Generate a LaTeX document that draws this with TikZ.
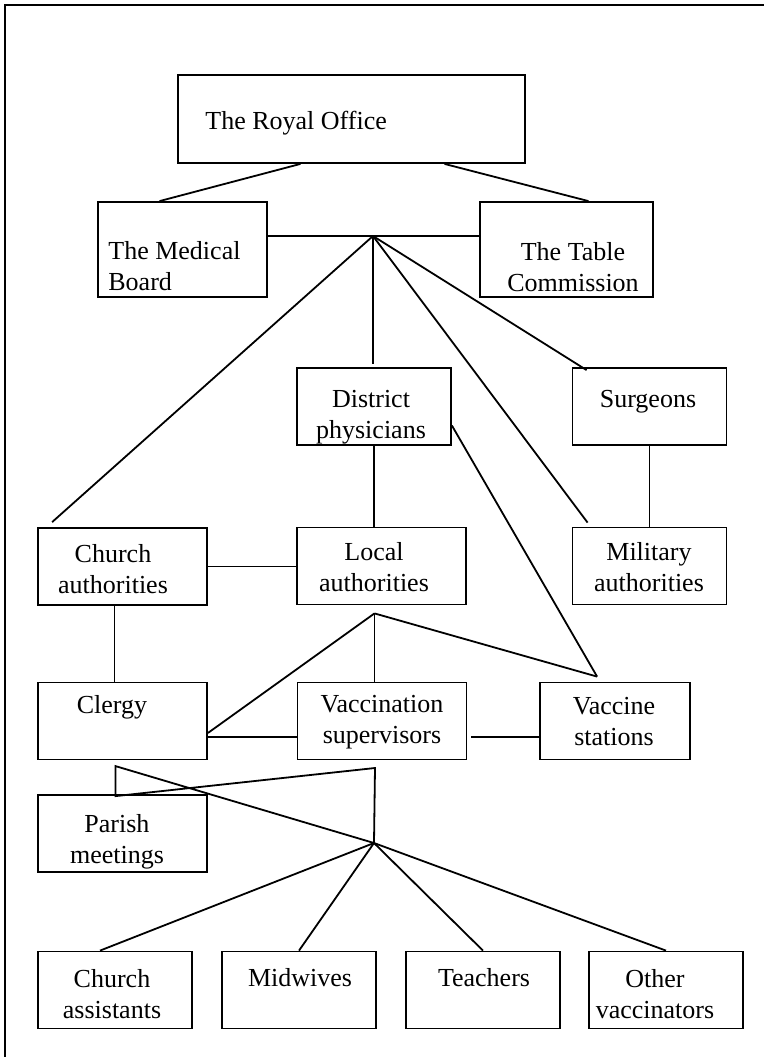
\documentclass[tikz,border=0pt]{standalone}
\usepackage{fontspec}
\setmainfont{Liberation Serif}
\usetikzlibrary{calc}

\tikzset{
  unit/.style={draw, line width=0.9pt, inner sep=0pt, minimum width=84.5pt, minimum height=38.5pt},
  unitnarrow/.style={unit, minimum width=77pt},
  caption/.style={align=center, inner sep=0pt, font=\fontsize{13}{15.5}\selectfont},
  link/.style={line width=0.9pt}
}

\begin{document}
\begin{tikzpicture}[x=0.5pt,y=-0.5pt]
\useasboundingbox (0,0) rectangle (764,1057);
\draw[link] (5,1057) -- (5,5) -- (764,5);

\node[unit, minimum width=173.5pt, minimum height=44pt] (royal) at (351.5,119) {};
\node[unit, minimum height=47.5pt] (medical) at (182.5,249.5) {};
\node[unit, minimum width=86.5pt, minimum height=47.5pt] (table) at (566.5,249.5) {};
\node[unitnarrow] (district) at (374,406.5) {};
\node[unitnarrow] (surgeons) at (649.5,406.5) {};
\node[unit] (church) at (122.5,566.5) {};
\node[unit] (local) at (381.5,566) {};
\node[unitnarrow] (military) at (649.5,566) {};
\node[unit] (clergy) at (122.5,721) {};
\node[unit] (supervisors) at (382,721) {};
\node[unit, minimum width=75pt] (stations) at (615,721) {};
\node[unit] (parish) at (122.5,833.5) {};
\node[unitnarrow] (assistants) at (115,990) {};
\node[unitnarrow] (midwives) at (299,990) {};
\node[unitnarrow] (teachers) at (483,990) {};
\node[unitnarrow] (other) at (666,990) {};

\node[caption, anchor=west] (royal-t) at (205,123) {The Royal Office};
\node[caption, align=left, anchor=west] (medical-t) at (108,266) {The Medical\\Board};
\node[caption] (table-t) at (573,267) {The Table\\Commission};
\node[caption] (district-t) at (371,417) {District\\physicians};
\node[caption] (surgeons-t) at (648,402) {Surgeons};
\node[caption] (church-t) at (113,569) {Church\\authorities};
\node[caption] (local-t) at (374,567) {Local\\authorities};
\node[caption] (military-t) at (649,567) {Military\\authorities};
\node[caption] (clergy-t) at (112,707) {Clergy};
\node[caption] (supervisors-t) at (382,722) {Vaccination\\supervisors};
\node[caption] (stations-t) at (614,722) {Vaccine\\stations};
\node[caption] (parish-t) at (117,842) {Parish\\meetings};
\node[caption] (assistants-t) at (112,994) {Church\\assistants};
\node[caption] (midwives-t) at (300,978) {Midwives};
\node[caption] (teachers-t) at (484,978) {Teachers};
\node[caption] (other-t) at (655,994) {Other\\vaccinators};

% top level
\coordinate (tophub) at (373,236);
\draw[link] ($(royal.south)+(-51,0)$) -- ($(medical.north)+(-23,0)$);
\draw[link] ($(royal.south)+(93,0)$) -- ($(table.north)+(22,0)$);
\draw[link] (tophub -| medical.east) -- (tophub -| table.west);
\draw[link] (tophub) -- ($(church.north west)+(15,-5)$);
\draw[link] (tophub) -- ($(district.north)+(-1,-3)$);
\draw[link] (tophub) -- ($(surgeons.north west)+(15,3)$);
\draw[link] (tophub) -- ($(military.north west)+(16,-4)$);

% middle level
\coordinate (stationtop) at ($(stations.north west)+(58,-5)$);
\draw[link] ($(district.east)+(0,19)$) -- (stationtop);
\draw[link] (district.south) -- (district.south |- local.north);
\draw[link] (surgeons.south) -- (military.north);
\draw[link] (church.east) -- (church.east -| local.west);
\draw[link] ($(church.south)+(-8,0)$) -- ($(clergy.north)+(-8,0)$);
\coordinate (localhub) at ($(local.south)+(-7,8)$);
\draw[link] (localhub) -- (localhub |- supervisors.north);
\draw[link] (localhub) -- ($(clergy.east)+(0,12)$);
\draw[link] (localhub) -- (stationtop);
\draw[link] ($(clergy.east)+(0,16)$) -- ($(supervisors.west)+(0,16)$);
\draw[link] ($(supervisors.east)+(4,16)$) -- ($(stations.west)+(0,16)$);

% bottom level
\coordinate (bothub) at (374,843);
\coordinate (stem) at (375,768);
\coordinate (parishtop) at ($(parish.north)+(-7,2)$);
\coordinate (parishknee) at ($(parish.north)+(-7,-28)$);
\draw[link] (bothub) -- (stem) -- (parishtop) -- (parishknee) -- (bothub);
\draw[link] (bothub) -- ($(assistants.north)+(-15,0)$);
\draw[link] (bothub) -- (midwives.north);
\draw[link] (bothub) -- (teachers.north);
\draw[link] (bothub) -- (other.north);
\end{tikzpicture}
\end{document}
